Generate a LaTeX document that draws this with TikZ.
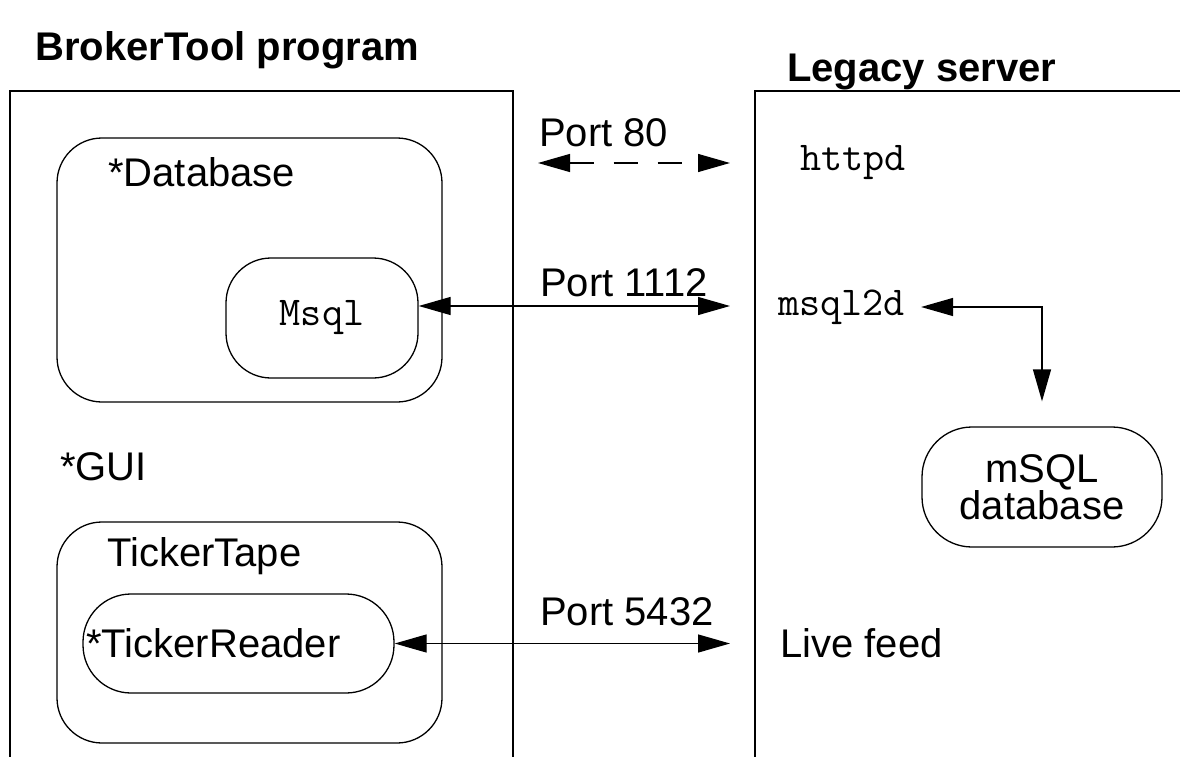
\documentclass[tikz,border=0pt]{standalone}
\usepackage{fontspec}
\setmainfont{Liberation Sans}
\usepackage{tikz}
\usetikzlibrary{arrows.meta,positioning}

\begin{document}
\begin{tikzpicture}[x=1pt, y=-1pt,
    frame/.style={line width=1.3pt},
    box/.style={rectangle, draw, line width=1.3pt, rounded corners=45pt, inner sep=0pt, align=center},
    lbl/.style={anchor=west, inner sep=0pt, font=\fontsize{40}{35}\selectfont},
    code/.style={anchor=west, inner sep=0pt, font=\ttfamily\fontsize{41}{41}\selectfont},
    head/.style={anchor=west, inner sep=0pt, font=\bfseries\fontsize{40}{40}\selectfont},
    arrow/.style={{Triangle[length=32pt,width=18pt]}-{Triangle[length=32pt,width=18pt]}, line width=1.3pt}
]
\useasboundingbox (0,0) rectangle (1180,757);
\node[head] (bt) at (35,50) {BrokerTool program};
\node[head] (ls) at (787,72) {Legacy server};
\draw[frame] (10,757) |- (513,91) -- (513,757);
\draw[frame] (755,757) |- (1180,91);
\node[box, minimum width=385pt, minimum height=264pt] (dbase) at (249.5,270) {};
\node[lbl] (dbl) at (108,172) {*Database};
\node[box, minimum width=192pt, minimum height=120pt, font=\ttfamily\fontsize{41}{41}\selectfont] (msql) at (322,318) {Msql};
\node[lbl] (gui) at (60,467) {*GUI};
\node[box, minimum width=385pt, minimum height=221pt] (tape) at (249.5,632.5) {};
\node[lbl] (tapel) at (107,556) {TickerTape};
\node[box, rounded corners=48pt, minimum width=311pt, minimum height=99pt] (reader) at (238.5,643.5) {};
\node[lbl] (readerl) at (86,643) {*TickerReader};
\node[box, rounded corners=50pt, minimum width=240pt, minimum height=120pt, font=\fontsize{40}{35}\selectfont] (db) at (1042,487) {mSQL\\database};
\node[lbl] (p80) at (539,133) {Port 80};
\node[lbl] (p1112) at (540,283) {Port 1112};
\node[lbl] (p5432) at (540,612) {Port 5432};
\node[code] (httpd) at (800,163) {httpd};
\node[code] (msqld) at (778,307) {msql2d};
\node[lbl] (feed) at (780,643) {Live feed};
\coordinate (w80) at (538,163);
\coordinate (e80) at (730,163);
\coordinate (e1112) at (730,306);
\coordinate (e5432) at (730,643.5);
\draw[arrow, dash pattern=on 24pt off 20pt] (w80) -- (e80);
\draw[arrow] (msql.east |- e1112) -- (e1112);
\draw[arrow] (reader.east) -- (e5432);
\draw[arrow] ([xshift=16pt]msqld.east) -| ([yshift=25pt]db.north);
\end{tikzpicture}
\end{document}
